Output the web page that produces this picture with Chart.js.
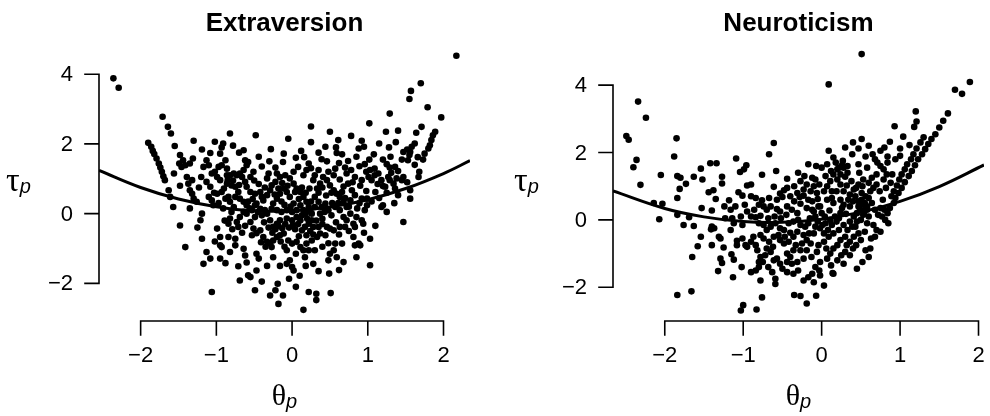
<!DOCTYPE html>
<html><head><meta charset="utf-8">
<script src="https://cdn.jsdelivr.net/npm/chart.js@4.4.0/dist/chart.umd.min.js"></script>
<style>
html,body{margin:0;padding:0;background:#fff;}
#wrap{position:relative;width:990px;height:416px;overflow:hidden;}
canvas{position:absolute;top:0;}
</style></head><body>
<div id="wrap">
<canvas id="c1" width="495" height="416" style="left:0"></canvas>
<canvas id="c2" width="495" height="416" style="left:495px"></canvas>
</div>
<script>
// ---- tick labels ----
const thetaTicks = [-2, -1, 0, 1, 2];
const tauTicks = [-2, 0, 2, 4];
const panelTitles = ['Extraversion', 'Neuroticism'];

// ---- fitted curves ----
const extraCurveTheta = [-2.55,-2,-1.5,-1,-0.5,0,0.5,1,1.5,2,2.35];
const extraCurveTau   = [1.24,0.75,0.42,0.20,0.08,0.08,0.19,0.40,0.72,1.15,1.52];
const neuroCurveTheta = [-2.66,-2,-1.5,-1,-0.5,0,0.5,1,1.5,2.07];
const neuroCurveTau   = [0.86,0.34,0.09,-0.05,-0.07,0.02,0.23,0.55,0.99,1.63];

// ---- person points [theta, tau] ----
const extraPoints = [
[-2.36,3.88],[-2.29,3.61],[2.17,4.53],
[-1.90,2.03],[-1.86,1.92],[-1.84,1.80],[-1.82,1.71],[-1.79,1.58],[-1.76,1.44],[-1.74,1.32],[-1.72,1.20],[-1.70,1.07],[-1.68,0.96],
[-1.71,2.78],[-1.64,2.49],[-1.60,2.30],[-1.55,1.94],[-1.48,1.68],[-1.44,1.53],[-1.49,1.44],[-1.41,1.39],[-1.46,1.34],[-1.30,2.09],[-1.31,1.58],[-1.35,1.44],[-1.39,1.05],[-1.32,0.96],[-1.37,0.86],[-1.35,0.67],[-1.32,0.57],[-1.30,0.43],[-1.26,0.34],[-1.19,1.84],[-1.17,1.34],[-1.13,1.53],[-1.08,1.74],[-1.10,1.39],[-1.06,1.15],[-1.13,0.91],[-1.08,0.77],[-1.10,0.48],[-1.06,0.38],[-1.04,0.24],[-1.19,0],[-1.21,-0.19],[-1.19,-0.72],[-1.48,-0.34],[-1.57,0.19],[-1.61,0.48],[-1.63,0.67],[-1.41,-0.96],[-1.17,-1.44],[-1.08,-1.29],[-1.13,-1.10],[-0.95,-1.29],[-0.88,-1.42],[-1.06,-2.25],[-0.95,-0.91],[-0.93,-0.96],[-0.99,-0.43],[-0.95,-0.67],[-0.84,-0.67],[-0.75,-0.72],[-0.75,-0.91],[-0.64,-1.01],[-0.62,-1.20],[-0.71,-1.51],[-0.69,-1.92],[-0.58,-1.77],[-0.55,-1.82],[-0.49,-2.20],[-0.47,-1.15],[-0.44,-1.29],[-0.47,-1.63],[-0.29,-2.35],[-0.22,-2.20],[-0.19,-2.01],[-0.18,-2.59],[0.15,-2.76],[0.22,-2.25],
[-1.02,2.06],[-0.91,2.01],[-0.93,1.90],[-0.95,1.72],[-0.88,1.53],[-0.93,1.39],[-0.86,1.29],[-0.85,0.96],[-0.86,0.86],[-0.93,0.62],[-0.99,0.57],[-0.88,0.43],[-0.82,0.34],[-0.77,0.19],[-0.80,0.05],[-0.82,-0.14],[-0.84,-0.29],[-0.73,-0.24],[-0.71,-0.38],[-0.69,-0.10],[-0.64,0.05],[-0.60,0],[-0.53,0.10],[-0.49,0.24],[-0.49,-0.10],[-0.55,-0.24],[-0.51,-0.43],[-0.53,-0.62],[-0.47,-0.56],[-0.42,-0.48],[-0.38,-0.67],[-0.33,-0.81],[-0.29,-0.86],[-0.27,-0.96],[-0.25,-0.77],[-0.20,-0.67],[-0.16,-0.62],[-0.11,-0.57],[-0.05,-0.77],[0.00,-0.86],[-0.07,-1.05],[-0.03,-1.34],[-0.07,-1.44],[0.00,-1.53],[0.02,-1.63],[0.06,-0.81],[0.11,-0.96],[0.15,-1.05],[0.17,-1.25],[0.19,-0.86],[0.22,-1.05],[0.19,-0.62],[0.13,-0.48],[0.17,-0.38],[0.22,-0.29],[0.11,-0.19],[0.06,-0.10],[0.00,-0.19],[-0.07,-0.14],[-0.16,-0.19],[-0.20,-0.29],[-0.25,-0.38],[-0.29,-0.19],[-0.33,0],[-0.36,0.10],[-0.42,0.14],[-0.47,0.29],[-0.38,0.38],[-0.33,0.53],[-0.29,0.67],[-0.27,0.81],[-0.22,0.91],[-0.16,1.05],[-0.09,1.10],[-0.03,1.01],[0.02,0.86],[0.06,0.72],[0.11,0.62],[0.15,0.48],[0.19,0.34],[0.22,0.19],[0.15,0.10],[0.11,0.24],[0.02,0.29],[-0.03,0.48],[-0.07,0.62],[-0.11,0.72],[-0.16,0.57],[-0.20,0.43],[-0.25,0.29],[-0.27,0.14],[-0.20,0.10],[-0.14,0.05],[-0.07,0.10],[0.00,0.05],[0.06,0.10],[0.15,1.10],[0.19,1.25],[0.22,1.44],[0.08,1.34],[0.02,1.20],[-0.11,1.72],[-0.12,1.48],[-0.20,1.15],[-0.31,1.15],[-0.33,1.01],[-0.42,0.62],[-0.49,0.57],[-0.55,0.62],[-0.60,0.77],[-0.62,0.91],[-0.66,1.05],[-0.69,1.15],[-0.64,1.25],[-0.60,1.39],[-0.62,1.53],[-0.58,1.48],[-0.64,1.82],[-0.44,1.63],[-0.51,1.20],[-0.55,1.05],[-0.73,1.10],[-0.75,0.77],[-0.71,0.62],[-0.80,0.81],[-0.84,0.48],[-0.69,0.43],[-0.64,0.34],[-0.60,0.24],[-0.75,0.48],[-0.95,0.96],[-0.99,1.05],[-1.02,1.20],[-0.97,1.34],[-0.86,1.10],[-0.82,1.10],[-0.77,1.15],
[1.70,3.74],[1.57,3.52],[1.55,3.29],[1.79,3.05],[1.29,2.87],[1.97,2.76],[1.02,2.59],[1.71,2.49],[1.24,2.35],[1.40,2.38],[1.64,2.32],[1.89,2.35],[1.86,2.25],[1.84,2.11],[1.82,1.96],[1.80,1.87],[1.75,1.72],[0.78,2.23],[0.61,2.11],[0.92,2.09],[0.44,1.92],[0.59,1.74],[0.66,1.70],[0.88,1.87],[0.95,1.92],[1.15,2.01],[1.37,2.05],[1.28,1.90],[1.08,1.70],[1.30,1.63],[1.47,1.77],[1.52,1.84],[1.56,1.77],[1.55,1.68],[1.53,1.53],[1.58,1.92],[1.62,2.01],[0.39,1.56],[0.46,1.50],[0.74,1.51],[0.85,1.63],[0.89,1.36],[0.70,1.32],[0.96,1.42],[1.03,1.25],[1.09,1.29],[1.25,1.42],[1.29,1.32],[1.36,1.34],[1.31,1.17],[0.57,1.29],[0.55,1.10],[0.63,0.98],[0.72,1.15],[0.74,0.86],[0.83,1.05],[0.92,0.96],[1.01,1.05],[1.05,0.96],[1.09,1.10],[1.14,1.15],[1.18,0.96],[1.20,0.79],[1.23,0.77],[1.29,0.96],[1.27,1.05],[1.38,1.01],[1.45,0.96],[1.34,0.86],[1.47,1.05],[1.68,1.20],[1.67,1.05],[1.56,0.67],[1.56,0.43],[1.40,0.53],[1.20,0.24],[1.18,0.19],[1.47,-0.24],[0.99,0.43],[0.99,0.24],[0.92,0.43],[0.83,0.53],[0.79,0.67],[0.77,0.38],[0.72,0.19],[0.68,0.34],[0.63,0.48],[0.59,0.57],[0.55,0.67],[0.50,0.81],[0.46,0.96],[0.41,1.05],[0.37,0.86],[0.33,0.72],[0.28,0.96],[0.30,0.48],[0.35,0.34],[0.39,0.19],[0.44,0.29],[0.48,0.10],[0.52,-0.05],[0.57,0.19],[0.63,0.10],[0.68,-0.10],[0.72,-0.19],[0.77,0],[0.81,-0.29],[0.85,-0.10],[0.92,-0.19],[0.94,-0.29],[0.83,-0.38],[0.81,-0.67],[0.83,-0.91],[0.88,-0.86],[0.90,-0.91],[1.03,-0.72],[0.66,-0.86],[0.57,-0.86],[0.55,-1.05],[0.50,-1.15],[0.59,-1.25],[0.68,-1.39],[0.48,-1.34],[0.28,-1.44],[0.30,-1.05],[0.33,-0.67],[0.28,-0.38],[0.35,-0.38],[0.37,-0.57],[0.44,-0.62],[0.46,-0.38],[0.50,-0.43],[0.55,-0.48],[0.26,-0.77],[1.03,-1.48],[0.49,-1.72],[0.70,-0.38],[0.63,-0.38],[0.37,0],[0.30,0.19],[0.26,0],[0.26,-0.19],
[0.32,-2.30],[0.32,-2.48],[0.51,-2.28],[-0.04,-1.87],
[-0.58,0.35],[-0.52,0.42],[-0.45,0.05],[-0.40,-0.05],[-0.37,-0.25],[-0.31,-0.40],[-0.26,-0.55],[-0.22,-0.45],[-0.18,-0.35],[-0.13,-0.42],[-0.09,-0.30],[-0.04,-0.40],[0.01,-0.33],[0.04,-0.45],[0.08,-0.30],[0.13,-0.05],[0.18,0.00],[0.20,-0.15],[0.24,0.08],[-0.02,0.20],[-0.10,0.25],[-0.14,0.35],[-0.23,0.55],[-0.18,0.72],[-0.13,0.88],[-0.06,0.80],[0.04,0.62],[0.09,0.42],[0.13,0.75],[0.18,0.60],[0.23,0.72],[0.25,0.35],[-0.40,0.48],[-0.36,0.75],[-0.44,0.85],[-0.50,0.95],[-0.56,0.15],[-0.62,-0.35],[-0.66,-0.55],[-0.79,-0.45],[-0.89,-0.20],[-0.91,0.15],[-0.97,0.30],[-0.90,0.72],[-0.78,0.95],[-0.70,0.82],[-0.35,-0.95],[-0.41,-0.82],[-0.15,-0.80],[-0.10,-0.95],[0.05,-1.15],[0.09,-0.65],[0.24,-0.50],[0.28,-0.60],[0.32,-0.20],[0.40,-0.15],[0.43,0.05],[0.53,0.30],[0.61,0.30],[0.66,0.62],[0.70,0.45],[0.75,0.20],[0.86,0.15],[0.89,0.30],[0.96,0.10],[1.05,0.35],[1.10,0.62],[1.15,0.45],[0.98,0.65],[0.90,0.80],[0.80,0.90],[0.68,0.78],[0.52,0.60],[0.45,0.52],[0.35,0.60],[0.40,0.75],[0.30,1.10],[0.35,1.25],[0.48,1.20],[0.62,1.45],[0.78,1.25],[0.98,1.20],[1.13,0.85],[1.25,0.60],[1.36,0.72],[0.40,-0.30],[0.58,-0.25],[0.62,-0.60],[0.75,-0.50],[0.48,-0.85],[0.40,-0.95],[0.18,-1.50],[0.10,-1.78],[-0.25,-1.25],[-0.33,-1.50],[-0.16,-1.50],[-0.40,-1.95],[-0.60,-1.40],[-0.82,-1.10],[-1.02,-0.80],[-1.25,-0.40],[-1.35,0.15],[-1.48,0.80],[-1.56,1.15],[-1.23,0.75],[-1.20,1.05],[-1.03,0.60],[-0.70,1.75],[-0.78,1.95],[-0.40,1.35],[-0.30,1.50],[-0.22,1.32],[0.05,1.60],[0.12,1.80],[-0.05,2.15],[0.25,2.05],[-0.48,2.25],[-0.82,2.30],[-0.28,1.85],[0.16,1.62],[0.35,1.75],[0.25,1.30],[-0.12,-2.35],[0.05,-2.10],[0.35,-1.65],[0.62,-1.62],[0.85,-1.25],[0.95,-0.55],[1.10,-0.35],[1.25,0.05],[1.35,0.30],[1.52,0.90],[1.62,1.40],[1.73,1.55],[1.66,1.62],[1.45,1.55],[1.40,1.22],[1.20,1.55],[1.02,1.55],[0.58,1.90],[0.25,2.50],[0.50,2.35]
];

const neuroPoints = [
[-2.49,2.49],[-2.46,2.38],[-2.34,3.51],[-2.24,3.03],[-2.36,1.78],[-2.40,1.56],[-2.31,1.04],[0.51,4.92],
[-1.85,2.42],[-1.88,1.88],[-1.42,1.68],[-1.34,1.68],[-1.09,1.82],[-1.04,1.42],[-0.99,1.50],[-0.96,1.62],[-0.67,1.95],[-0.61,2.28],[-0.17,1.65],[-0.58,1.45],[-0.76,1.34],[-0.44,1.22],[-0.27,1.15],[-0.19,1.05],[-0.23,0.90],[-2.05,1.33],[-1.84,1.30],[-1.80,1.25],[-1.73,1.07],[-1.81,0.92],[-1.84,0.65],[-1.63,1.28],[-1.54,1.52],[-1.52,1.20],[-1.27,1.28],[-1.27,1.08],[-1.38,0.88],[-1.44,0.82],[-1.35,0.62],[-1.18,0.58],[-1.24,0.40],[-1.16,0.30],[-1.53,0.35],[-1.40,0.28],[-2.14,0.50],[-2.03,0.48],[-2.07,0.02],[-1.84,0.15],[-1.69,0.08],[-1.76,-0.15],[-1.63,-0.18],[-1.54,-0.50],[-1.40,-0.20],[-1.41,-0.28],[-1.37,-0.25],[-1.40,-0.75],[-1.58,-0.78],[-1.65,-1.10],[-1.31,-0.50],[-1.29,-0.55],[-1.25,-0.82],[-1.29,-1.15],[-1.27,-1.28],[-1.32,-1.52],[-1.15,-1.02],[-1.12,-1.18],[-1.13,-1.70],[-1.02,-1.40],[-1.08,-0.75],[-1.08,-0.62],[-1.14,0.05],[-1.12,-0.10],[-1.23,0.05],[-1.03,0.10],[-1.01,-0.15],[-1.06,0.82],[-1.01,0.72],[-0.95,1.02],[-0.90,1.05],[-0.90,0.70],[-0.84,0.65],[-0.76,0.58],[-0.67,0.65],[-0.61,0.98],[-0.57,0.60],[-0.53,0.78],[-0.50,0.68],[-0.44,0.95],[-0.31,0.80],[-0.28,0.68],[-0.23,0.72],[-0.17,0.60],[-0.27,0.48],[-0.19,0.35],[-0.38,0.30],[-0.31,0.20],[-0.44,0.40],[-0.57,0.32],[-0.53,0.25],[-0.65,0.40],[-0.70,0.30],[-0.78,0.12],[-0.84,0.08],[-0.90,0.10],[-0.95,0.25],[-0.80,-0.10],[-0.74,-0.15],[-0.65,-0.20],[-0.70,-0.30],[-0.59,-0.10],[-0.53,-0.25],[-0.48,-0.30],[-0.42,-0.10],[-0.36,-0.05],[-0.27,-0.15],[-0.21,-0.20],[-0.17,-0.10],[-0.31,-0.35],[-0.23,-0.45],[-0.19,-0.60],[-0.14,-0.70],[-0.36,-0.50],[-0.42,-0.65],[-0.48,-0.70],[-0.53,-0.60],[-0.61,-0.50],[-0.67,-0.65],[-0.74,-0.55],[-0.78,-0.45],[-0.87,-0.50],[-0.90,-0.65],[-0.84,-0.75],[-0.95,-0.80],[-0.97,-0.75],[-1.01,-0.55],[-0.82,-0.90],[-0.78,-1.10],[-0.72,-1.05],[-0.65,-0.95],[-0.61,-1.20],[-0.57,-1.15],[-0.53,-1.30],[-0.44,-1.25],[-0.38,-1.30],[-0.31,-1.25],[-0.23,-1.15],[-0.19,-0.90],[-0.27,-0.90],[-0.36,-0.90],[-0.44,-1.00],[-0.17,-1.70],[-0.23,-1.80],[-0.44,-1.55],[-0.36,-1.60],[-0.59,-1.75],[-0.59,-1.90],[-0.63,-1.55],[-0.80,-1.25],[-0.80,-1.40],[-0.84,-1.50],[-0.90,-1.55],[-0.78,-1.80],[-0.76,-2.30],[-0.35,-2.23],[-0.27,-2.26],[-0.19,-2.48],[-1.00,-2.53],[-0.83,-2.66],[-1.84,-2.23],[-1.66,-2.12],[-1.16,-0.30],[-1.03,-2.69],
[0.09,4.02],[1.70,3.86],[1.79,3.74],[1.89,4.09],[1.20,3.22],[1.21,2.92],[1.18,2.76],[1.61,3.16],
[1.55,2.94],[1.50,2.74],[1.45,2.54],[1.40,2.40],[1.36,2.25],[1.32,2.10],[1.28,1.95],[1.23,1.80],[1.19,1.62],[1.15,1.45],[1.11,1.30],[1.06,1.12],[1.02,0.95],[0.98,0.80],[0.94,0.65],[0.92,0.50],
[1.30,2.45],[1.26,2.30],[1.21,2.12],[1.17,1.95],[1.14,1.80],[1.09,1.65],[1.06,1.50],[1.02,1.35],[0.99,1.20],[0.96,1.02],[0.92,0.85],[0.89,0.70],[0.87,0.35],[0.84,0.20],[0.85,-0.10],[0.81,0],[0.75,-0.35],[0.68,-0.50],[0.62,-0.85],[0.60,-1.10],
[0.93,2.78],[1.04,2.47],[0.87,2.32],[0.80,2.15],[0.75,2.05],[0.51,2.40],[0.47,2.12],[0.39,1.95],[0.09,2.05],[0.56,1.88],[-0.07,1.60],[0.07,1.65],[0.27,1.75],[0.26,1.62],[0.22,1.55],[0.33,1.60],[0.47,1.65],[0.68,1.80],[0.71,1.70],[0.75,1.60],[0.79,1.50],[0.84,1.88],[0.84,1.70],[1.00,2.12],[1.12,2.22],[1.00,1.90],[0.94,1.80],[0.83,1.35],[0.79,1.20],[0.70,1.35],[0.64,1.25],[0.60,1.10],[0.53,1.20],[0.47,1.05],[0.41,0.90],[0.20,1.50],[0.24,1.35],[0.30,1.28],[0.15,1.35],[0.20,1.20],[0.11,1.15],[0.24,1.05],[0.32,1.02],[0.07,1.00],[0.03,0.85],[0.13,0.85],[0.28,0.85],[0.36,0.75],[0.43,0.70],[0.51,0.80],[0.56,0.70],[0.47,0.55],[0.51,0.45],[0.56,0.35],[0.49,0.30],[0.45,0.20],[0.53,0.15],[0.47,0.40],[0.51,0.60],[0.58,0.40],[0.64,0.50],[0.68,0.30],[0.75,0.35],[0.60,0.10],[0.58,-0.10],[0.41,0.10],[0.36,-0.05],[0.43,-0.20],[0.47,-0.40],[0.41,-0.50],[0.36,-0.65],[0.32,-0.75],[0.30,-0.95],[0.36,-1.05],[0.28,-1.30],[0.15,-1.60],[0.24,0.20],[0.17,0.10],[0.11,0],[0.05,-0.10],[0.24,0.60],[0.15,0.50],[0.07,0.60],[-0.02,0.40],[0.28,-0.15],[0.22,-0.30],[0.15,-0.40],[0.09,-0.50],[0.03,-0.65],[-0.04,-0.75],[0.24,-0.60],[0.20,-0.75],[0.15,-0.85],[0.11,-1.00],[0.07,-1.15],[-0.02,-1.25],[-0.08,-1.40],[-0.12,-1.60],[0.30,-0.50],[0.03,-0.40],[-0.02,-0.25],[-0.08,-0.20],[-0.10,-0.40],[-0.08,0.10],[-0.10,0.25],[-0.04,0.40],[-0.06,0.80],[-0.10,1.00],[-0.08,1.20],[0.34,0.60],[0.26,0.35],[0.03,-1.95],[-0.07,-2.25],[-0.02,-1.65],[-0.03,-1.50],[0.14,-1.58],
[-0.12,0.55],[-0.05,0.62],[0.00,0.20],[0.04,0.10],[0.10,0.28],[0.13,0.65],[0.19,0.85],[0.22,0.05],[0.28,0.45],[0.31,0.18],[0.36,0.40],[0.40,0.55],[0.44,0.95],[0.38,1.15],[0.33,1.40],[0.28,1.55],[0.18,1.70],[0.12,1.45],[0.05,1.30],[-0.03,1.05],[-0.14,0.85],[-0.12,0.30],[-0.15,0.05],[-0.05,-0.05],[0.01,-0.15],[0.08,-0.30],[0.13,-0.15],[0.19,-0.05],[0.33,-0.30],[0.39,-0.20],[0.45,-0.05],[0.50,0.00],[0.55,0.50],[0.60,0.65],[0.62,0.85],[0.66,0.95],[0.70,1.05],[0.74,0.85],[0.78,0.60],[0.72,0.15],[0.66,-0.15],[0.55,-0.35],[0.50,-0.60],[0.44,-0.75],[0.40,-0.85],[0.25,-1.05],[0.20,-1.20],[0.12,-1.35],[0.06,-0.85],[-0.06,-0.95],[-0.13,-1.10],[-0.16,-0.40],[-0.25,-0.70],[-0.33,-0.75],[-0.40,-0.38],[-0.47,-0.50],[-0.55,-0.45],[-0.62,-0.80],[-0.70,-0.85],[-0.75,-1.25],[-0.68,-1.40],[-0.50,-1.45],[-0.40,-1.10],[-0.30,-1.50],[-0.10,-1.85],[-0.30,0.00],[-0.45,0.15],[-0.52,0.05],[-0.60,0.10],[-0.68,0.05],[-0.74,0.40],[-0.80,0.45],[-0.86,0.30],[-0.98,0.45],[-1.10,0.40],[-0.35,0.55],[-0.40,0.70],[-0.48,0.88],[-0.35,1.00],[-0.22,1.30],[-0.30,1.40],[-0.12,1.25],[0.00,1.55],[0.15,1.85],[0.30,2.15],[0.40,2.30],[0.60,2.20],[0.65,1.95],[0.58,1.55],[0.48,1.40],[0.52,1.00],[0.90,1.35],[0.88,1.10],[0.82,0.95],[0.80,0.30],[0.77,0.10],[0.70,-0.30],[0.63,-0.55],[0.56,-0.90],[0.52,-1.25],[0.45,-1.45],[0.54,0.20],[0.58,0.30]
];

// ---- drawing helpers ----
const SANS = '"Liberation Sans", Arial, Helvetica, sans-serif';
const SERIF = '"Liberation Serif", "DejaVu Serif", serif';
function fmt(v){ return v < 0 ? '\u2212' + Math.abs(v) : String(v); }

const rAxes = {
  id: 'rAxes',
  afterDraw(chart, args, opts) {
    const ctx = chart.ctx, xs = chart.scales.x, ys = chart.scales.y, a = chart.chartArea;
    ctx.save();
    ctx.strokeStyle = '#000'; ctx.fillStyle = '#000'; ctx.lineWidth = 1.6; ctx.lineCap = 'square';
    const yb = a.bottom;
    ctx.beginPath();
    ctx.moveTo(xs.getPixelForValue(thetaTicks[0]), yb);
    ctx.lineTo(xs.getPixelForValue(thetaTicks[thetaTicks.length-1]), yb);
    thetaTicks.forEach(v => { const p = xs.getPixelForValue(v); ctx.moveTo(p, yb); ctx.lineTo(p, yb + 14); });
    const xl = a.left;
    ctx.moveTo(xl, ys.getPixelForValue(tauTicks[0]));
    ctx.lineTo(xl, ys.getPixelForValue(tauTicks[tauTicks.length-1]));
    tauTicks.forEach(v => { const p = ys.getPixelForValue(v); ctx.moveTo(xl, p); ctx.lineTo(xl - 14, p); });
    ctx.stroke();
    ctx.font = '22px ' + SANS;
    ctx.textBaseline = 'middle';
    ctx.textAlign = 'center';
    thetaTicks.forEach(v => ctx.fillText(fmt(v), xs.getPixelForValue(v), yb + 35));
    ctx.textAlign = 'right';
    tauTicks.forEach(v => ctx.fillText(fmt(v), xl - 26, ys.getPixelForValue(v) + 1));
    ctx.textAlign = 'center'; ctx.textBaseline = 'alphabetic';
    ctx.font = 'bold 26px ' + SANS;
    const cx = (a.left + a.right) / 2;
    ctx.fillText(opts.title, cx, 31);
    ctx.textAlign = 'left';
    ctx.font = '30px ' + SERIF;
    const tw = ctx.measureText('\u03B8').width;
    ctx.font = 'italic 20px ' + SANS;
    const pw = ctx.measureText('p').width;
    const x0 = cx - (tw + pw) / 2;
    ctx.font = '30px ' + SERIF;
    ctx.fillText('\u03B8', x0, 405);
    ctx.font = 'italic 20px ' + SANS;
    ctx.fillText('p', x0 + tw, 408);
    const ty = (a.top + a.bottom) / 2;
    ctx.font = '34px ' + SERIF;
    const uw = ctx.measureText('\u03C4').width;
    ctx.fillText('\u03C4', a.left - opts.ylabOff, ty + 7);
    ctx.font = 'italic 20px ' + SANS;
    ctx.fillText('p', a.left - opts.ylabOff + uw, ty + 9);
    ctx.restore();
  }
};

function makeChart(id, pts, cTheta, cTau, xr, yr, pad, title, ylabOff) {
  const curve = cTheta.map((t, i) => ({x: t, y: cTau[i]}));
  return new Chart(document.getElementById(id), {
    type: 'scatter',
    data: {
      datasets: [
        { data: curve, showLine: true, pointRadius: 0, borderColor: '#000', borderWidth: 3, tension: 0.4, order: 0, fill: false },
        { data: pts.map(p => ({x: p[0], y: p[1]})), pointRadius: 3.3, pointBackgroundColor: '#000', pointBorderWidth: 0, order: 1 }
      ]
    },
    options: {
      responsive: false, animation: false, devicePixelRatio: 1,
      layout: { padding: pad },
      scales: {
        x: { type: 'linear', min: xr[0], max: xr[1], display: false },
        y: { type: 'linear', min: yr[0], max: yr[1], display: false }
      },
      plugins: { legend: { display: false }, tooltip: { enabled: false }, rAxes: { title: title, ylabOff: ylabOff } }
    },
    plugins: [rAxes]
  });
}

makeChart('c1', extraPoints, extraCurveTheta, extraCurveTau, [-2.55, 2.35], [-3.08, 4.78],
  {left: 99, right: 25, top: 47, bottom: 95}, panelTitles[0], 93);
makeChart('c2', neuroPoints, neuroCurveTheta, neuroCurveTau, [-2.66, 2.07], [-3.0, 5.16],
  {left: 118, right: 6, top: 46, bottom: 95}, panelTitles[1], 99);
</script>
</body></html>
